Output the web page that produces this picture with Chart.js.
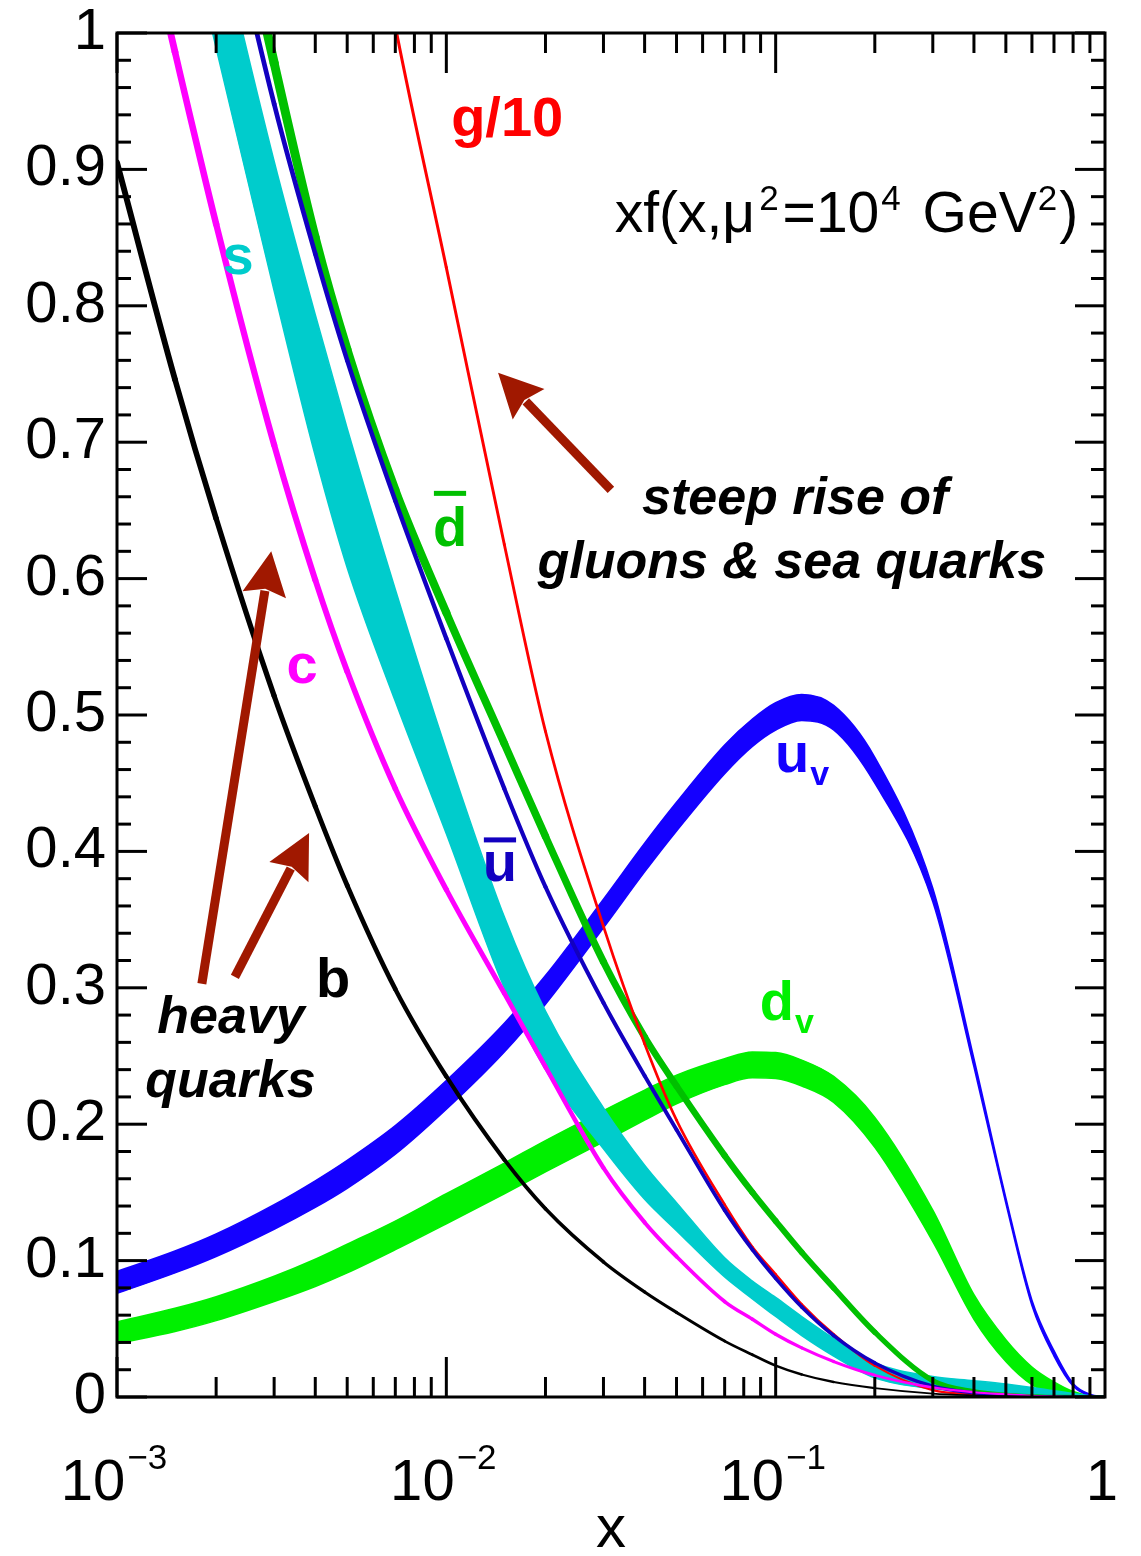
<!DOCTYPE html>
<html>
<head>
<meta charset="utf-8">
<script src="https://cdn.jsdelivr.net/npm/chart.js@4.4.1/dist/chart.umd.min.js"></script>
<style>
  html, body { margin: 0; padding: 0; background: #fff; }
  #wrap { width: 1141px; height: 1556px; }
</style>
</head>
<body>
<div id="wrap"><canvas id="pdfChart" width="1141" height="1556"></canvas></div>
<script>
const FONT = "'Liberation Sans', Arial, Helvetica, sans-serif";

// momentum fraction x (log axis)
const xValues = [0.001, 0.0015, 0.002, 0.003, 0.004, 0.005, 0.007, 0.01, 0.015, 0.02, 0.03, 0.04, 0.05,
                 0.07, 0.085, 0.1, 0.12, 0.15, 0.2, 0.3, 0.4, 0.5, 0.6, 0.7, 0.8, 0.9, 1.0];

// xf(x) at mu^2 = 1e4 GeV^2; bands are given as upper / lower edges
const uvHigh = [0.092, 0.107, 0.1195, 0.141, 0.1585, 0.1735, 0.199, 0.232, 0.274, 0.309, 0.365, 0.406, 0.436,
                0.478, 0.497, 0.509, 0.515, 0.507, 0.469, 0.373, 0.248, 0.146, 0.071, 0.034, 0.010, 0.002, 0];
const uvLow  = [0.076, 0.091, 0.103, 0.123, 0.139, 0.153, 0.178, 0.211, 0.253, 0.288, 0.344, 0.385, 0.415,
                0.457, 0.477, 0.489, 0.496, 0.489, 0.450, 0.363, 0.242, 0.142, 0.067, 0.030, 0.008, 0.001, 0];
const dvHigh = [0.055, 0.065, 0.0735, 0.0885, 0.101, 0.112, 0.129, 0.149, 0.1715, 0.188, 0.210, 0.225, 0.236,
                0.248, 0.253, 0.2525, 0.247, 0.235, 0.205, 0.137, 0.075, 0.042, 0.022, 0.011, 0.004, 0.001, 0];
const dvLow  = [0.039, 0.048, 0.056, 0.070, 0.081, 0.091, 0.108, 0.127, 0.149, 0.165, 0.187, 0.203, 0.215,
                0.229, 0.234, 0.2335, 0.228, 0.216, 0.183, 0.114, 0.057, 0.026, 0.009, 0.002, 0, 0, 0];
const sHigh  = [1.407, 1.213, 1.082, 0.906, 0.7935, 0.710, 0.592, 0.474, 0.352, 0.283, 0.212, 0.170, 0.1425,
                0.102, 0.085, 0.073, 0.059, 0.043, 0.025, 0.015, 0.012, 0.0095, 0.007, 0.0045, 0.0025, 0.001, 0];
const sLow   = [1.33, 1.12, 0.989, 0.811, 0.69, 0.608, 0.51, 0.413, 0.300, 0.240, 0.182, 0.145, 0.122,
                0.088, 0.072, 0.059, 0.045, 0.030, 0.014, 0.006, 0.004, 0.0025, 0.0015, 0.001, 0.0005, 0, 0];
const bValues    = [0.905, 0.746, 0.644, 0.514, 0.433, 0.375, 0.299, 0.235, 0.174, 0.138, 0.099, 0.077, 0.062,
                    0.041, 0.031, 0.023, 0.0165, 0.011, 0.0065, 0.0025, 0.0012, 0.0006, 0.0003, 0.0001, 0, 0, 0];
const cValues    = [1.17, 0.986, 0.860, 0.698, 0.599, 0.532, 0.446, 0.372, 0.296, 0.242, 0.168, 0.128, 0.103,
                    0.070, 0.057, 0.046, 0.036, 0.026, 0.016, 0.007, 0.0035, 0.002, 0.001, 0.0005, 0, 0, 0];
const ubarValues = [1.48, 1.27, 1.13, 0.948, 0.838, 0.760, 0.657, 0.556, 0.446, 0.374, 0.289, 0.2355, 0.196,
                    0.137, 0.108, 0.087, 0.066, 0.045, 0.025, 0.008, 0.003, 0.001, 0, 0, 0, 0, 0];
const dbarValues = [1.55, 1.32, 1.17, 0.978, 0.850, 0.768, 0.665, 0.575, 0.479, 0.411, 0.319, 0.264, 0.228,
                    0.177, 0.150, 0.129, 0.106, 0.080, 0.0475, 0.012, 0.004, 0.0015, 0.0005, 0, 0, 0, 0];
const gOver10    = [2.3, 2.0, 1.8, 1.55, 1.35, 1.2, 1.005, 0.828, 0.625, 0.488, 0.345, 0.259, 0.203,
                    0.141, 0.110, 0.090, 0.068, 0.046, 0.023, 0.005, 0.002, 0.001, 0, 0, 0, 0, 0];

// x axis tick labels: mantissa and exponent
const xTickValues = [0.001, 0.01, 0.1, 1];
const xTickBase   = ['10', '10', '10', '1'];
const xTickExp    = ['\u22123', '\u22122', '\u22121', ''];

const toPoints = ys => ys.map((y, i) => ({ x: xValues[i], y }));

// width tapers linearly in log x from w0 (x=1e-3) to w1 (x=1)
function curve(label, ys, color, w0, w1) {
  const widthAt = i => w0 + (w1 - w0) * (Math.log10(xValues[i]) + 3) / 3;
  return {
    label, data: toPoints(ys), borderColor: color, backgroundColor: color,
    borderWidth: w0, pointRadius: 0, fill: false, clip: 0,
    cubicInterpolationMode: 'monotone', capBezierPoints: false,
    borderCapStyle: 'round', borderJoinStyle: 'round',
    segment: { borderWidth: c => (widthAt(c.p0DataIndex) + widthAt(c.p1DataIndex)) / 2 }
  };
}

function band(label, hi, lo, color) {
  const common = { borderColor: color, backgroundColor: color, borderWidth: 1.5, pointRadius: 0,
                   clip: 0, cubicInterpolationMode: 'monotone', capBezierPoints: false };
  return [
    Object.assign({ label: label + ' high', data: toPoints(hi), fill: false }, common),
    Object.assign({ label: label + ' low', data: toPoints(lo), fill: '-1' }, common)
  ];
}

// first dataset is drawn on top
const datasets = [
  curve('b', bValues, '#000000', 6, 0.8),
  curve('c', cValues, '#ff00ff', 7, 1.5),
  curve('ubar', ubarValues, '#1200c0', 5, 3),
  curve('g/10', gOver10, '#ff0000', 3.5, 2),
  curve('dbar', dbarValues, '#00c000', 10, 4),
  ...band('s', sHigh, sLow, '#00cccc'),
  ...band('uv', uvHigh, uvLow, '#1400ff'),
  ...band('dv', dvHigh, dvLow, '#00f000')
];

// text labels placed in data coordinates
const partonLabels = [
  { text: 'g/10', x: 0.0153, y: 0.9245, color: '#ff0000' },
  { text: 's', x: 0.00233, y: 0.823, color: '#00cccc' },
  { text: 'd', x: 0.01026, y: 0.624, color: '#00c000', bar: true },
  { text: 'c', x: 0.00365, y: 0.5235, color: '#ff00ff' },
  { text: 'u', x: 0.01455, y: 0.378, color: '#1200c0', bar: true },
  { text: 'u', x: 0.1122, y: 0.458, color: '#1400ff', sub: 'v' },
  { text: 'd', x: 0.1009, y: 0.2764, color: '#00f000', sub: 'v' },
  { text: 'b', x: 0.00453, y: 0.2933, color: '#000000' }
];
const captions = [
  { text: 'steep rise of', x: 0.1146, y: 0.6474 },
  { text: 'gluons & sea quarks', x: 0.1119, y: 0.6004 },
  { text: 'heavy', x: 0.00222, y: 0.2669 },
  { text: 'quarks', x: 0.00221, y: 0.2199 }
];
const arrows = [
  { from: [0.0316, 0.665], to: [0.01436, 0.751] },
  { from: [0.00181, 0.303], to: [0.00294, 0.620] },
  { from: [0.00228, 0.308], to: [0.00383, 0.4135] }
];

const decor = {
  id: 'decor',
  afterDatasetsDraw(chart) {
    const { ctx, chartArea: a, scales: { x, y } } = chart;
    ctx.save();
    ctx.strokeStyle = '#000';
    ctx.lineWidth = 3;
    ctx.lineCap = 'butt';
    const seg = (x1, y1, x2, y2) => { ctx.beginPath(); ctx.moveTo(x1, y1); ctx.lineTo(x2, y2); ctx.stroke(); };

    // y ticks on both sides: 0.1 major, 0.02 minor
    for (let i = 0; i <= 50; i++) {
      const py = y.getPixelForValue(i / 50);
      const len = i % 5 === 0 ? 30 : 14;
      seg(a.left, py, a.left + len, py);
      seg(a.right, py, a.right - len, py);
    }
    // x ticks on top and bottom
    for (let e = -3; e < 0; e++) {
      for (let k = 1; k <= 9; k++) {
        const px = x.getPixelForValue(k * Math.pow(10, e));
        const len = k === 1 ? 40 : 20;
        seg(px, a.bottom, px, a.bottom - len);
        seg(px, a.top, px, a.top + len);
      }
    }
    ctx.strokeRect(a.left, a.top, a.right - a.left, a.bottom - a.top);

    // x tick labels with superscript exponents
    ctx.fillStyle = '#000';
    ctx.textBaseline = 'alphabetic';
    ctx.textAlign = 'left';
    xTickValues.forEach((v, i) => {
      const px = x.getPixelForValue(v);
      ctx.font = `58px ${FONT}`;
      const wb = ctx.measureText(xTickBase[i]).width;
      ctx.font = `35px ${FONT}`;
      const we = xTickExp[i] ? ctx.measureText(xTickExp[i]).width + 2 : 0;
      const left = px - (wb + we) / 2 - 3;
      ctx.font = `58px ${FONT}`;
      ctx.fillText(xTickBase[i], left, a.bottom + 103);
      if (we) {
        ctx.font = `35px ${FONT}`;
        ctx.fillText(xTickExp[i], left + wb + 2, a.bottom + 72);
      }
    });
    ctx.font = `60px ${FONT}`;
    ctx.textAlign = 'center';
    ctx.fillText('x', (a.left + a.right) / 2, a.bottom + 150);

    // title  xf(x, mu^2 = 10^4 GeV^2)
    const parts = [['xf(x,\u03bc', 0, 4], ['2', 1, 4], ['=10', 0, 2], ['4', 1, 6], [' GeV', 0, 1], ['2', 1, 2], [')', 0, 0]];
    const measure = p => { ctx.font = p[1] ? `35px ${FONT}` : `57px ${FONT}`; return ctx.measureText(p[0]).width; };
    const total = parts.reduce((s, p) => s + measure(p) + p[2], 0);
    let tx = x.getPixelForValue(0.8286) - total;
    const ty = y.getPixelForValue(0.8541);
    ctx.textAlign = 'left';
    parts.forEach(p => {
      const w = measure(p);
      ctx.fillText(p[0], tx, p[1] ? ty - 22 : ty);
      tx += w + p[2];
    });

    // arrows
    ctx.strokeStyle = ctx.fillStyle = '#a01800';
    ctx.lineWidth = 9;
    arrows.forEach(ar => {
      const x0 = x.getPixelForValue(ar.from[0]), y0 = y.getPixelForValue(ar.from[1]);
      const x1 = x.getPixelForValue(ar.to[0]), y1 = y.getPixelForValue(ar.to[1]);
      const len = Math.hypot(x1 - x0, y1 - y0), ux = (x1 - x0) / len, uy = (y1 - y0) / len;
      const hx = x1 - ux * 44, hy = y1 - uy * 44;
      seg(x0, y0, hx + ux * 4, hy + uy * 4);
      ctx.beginPath();
      ctx.moveTo(x1, y1);
      ctx.lineTo(hx - uy * 22, hy + ux * 22);
      ctx.lineTo(hx + ux * 6, hy + uy * 6);
      ctx.lineTo(hx + uy * 22, hy - ux * 22);
      ctx.closePath();
      ctx.fill();
    });

    // parton labels
    partonLabels.forEach(l => {
      const px = x.getPixelForValue(l.x), py = y.getPixelForValue(l.y);
      ctx.fillStyle = l.color;
      ctx.font = `bold 56px ${FONT}`;
      const w = ctx.measureText(l.text).width;
      ctx.textAlign = 'center';
      ctx.fillText(l.text, px, py);
      if (l.bar) ctx.fillRect(px - w / 2 + 1, py - (l.text === 'd' ? 55 : 44), w - 2, 5);
      if (l.sub) {
        ctx.font = `bold 34px ${FONT}`;
        ctx.textAlign = 'left';
        ctx.fillText(l.sub, px + w / 2 + 1, py + 13);
      }
    });

    // italic captions
    ctx.fillStyle = '#000';
    ctx.textAlign = 'center';
    ctx.font = `italic bold 52px ${FONT}`;
    captions.forEach(c => ctx.fillText(c.text, x.getPixelForValue(c.x), y.getPixelForValue(c.y)));
    ctx.restore();
  }
};

new Chart(document.getElementById('pdfChart').getContext('2d'), {
  type: 'line',
  data: { datasets },
  options: {
    responsive: false,
    devicePixelRatio: 1,
    animation: false,
    layout: { padding: { left: 0, right: 36, top: 33, bottom: 159 } },
    plugins: { legend: { display: false }, tooltip: { enabled: false } },
    scales: {
      x: { type: 'logarithmic', min: 0.001, max: 1, display: false },
      y: {
        min: 0, max: 1,
        afterFit(scale) { scale.width = 117; scale.paddingTop = 0; scale.paddingBottom = 0; },
        grid: { display: false, drawTicks: false },
        border: { display: false },
        ticks: {
          stepSize: 0.1, padding: 11, color: '#000', font: { family: FONT, size: 58 },
          callback: v => String(+v.toFixed(1))
        }
      }
    }
  },
  plugins: [decor]
});
</script>
</body>
</html>
